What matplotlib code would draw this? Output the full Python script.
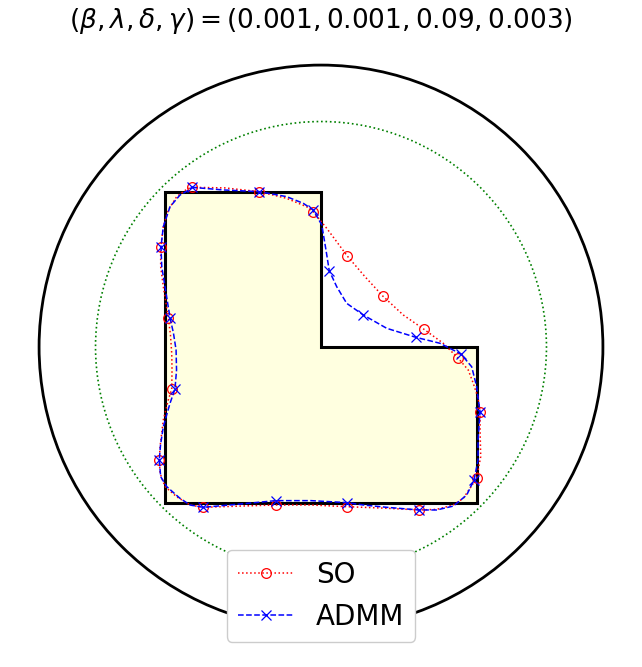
import numpy as np
import matplotlib
matplotlib.use("Agg")
import matplotlib.pyplot as plt

# L-shaped target domain (unit half-width)
shape_x = [-1, 1, 1, 0, 0, -1]
shape_y = [-1, -1, 0, 0, 1, 1]

# outer boundary circle and inner reference circle
outer_r = 1.813
inner_r = 1.45

# SO reconstructed boundary (clockwise from top-left)
so_x = [-0.832, -0.617, -0.397, -0.221, -0.092, -0.050, 0.037, 0.101, 0.169, 0.283,
        0.397, 0.529, 0.662, 0.786, 0.883, 0.947, 0.979, 1.010, 1.023, 1.023,
        1.027, 1.001, 0.915, 0.851, 0.744, 0.630, 0.423, 0.169, -0.064, -0.291,
        -0.521, -0.757, -0.842, -0.928, -1.003, -1.035, -1.040, -1.035, -1.014, -0.982,
        -0.960, -0.958, -0.960, -0.968, -0.982, -1.014, -1.031, -1.031, -1.014, -0.982,
        -0.928, -0.864, -0.832]
so_y = [1.027, 1.023, 0.999, 0.956, 0.902, 0.870, 0.763, 0.677, 0.585, 0.452,
        0.328, 0.206, 0.114, 0.024, -0.073, -0.148, -0.233, -0.328, -0.416, -0.534,
        -0.705, -0.844, -0.973, -1.016, -1.044, -1.048, -1.037, -1.027, -1.016, -1.016,
        -1.023, -1.031, -1.016, -0.963, -0.898, -0.812, -0.727, -0.641, -0.469, -0.341,
        -0.270, -0.148, -0.041, 0.077, 0.188, 0.388, 0.516, 0.641, 0.774, 0.881,
        0.967, 1.014, 1.027]
so_marks = [0, 2, 5, 8, 10, 12, 14, 18, 21, 25, 27, 29, 31, 36, 40, 44, 47]

# ADMM reconstructed boundary
admm_x = [-0.832, -0.628, -0.397, -0.221, -0.114, -0.050, 0.005, 0.032, 0.053, 0.101,
          0.165, 0.272, 0.423, 0.611, 0.765, 0.900, 0.969, 1.001, 1.012, 1.023,
          1.010, 1.010, 0.984, 0.937, 0.851, 0.744, 0.630, 0.423, 0.272, 0.169,
          -0.064, -0.291, -0.521, -0.757, -0.842, -0.907, -0.992, -1.031, -1.040, -1.032,
          -1.014, -0.971, -0.939, -0.929, -0.932, -0.949, -0.971, -1.003, -1.024, -1.029,
          -1.014, -0.971, -0.907, -0.842, -0.832]
admm_y = [1.027, 1.010, 0.999, 0.967, 0.924, 0.881, 0.785, 0.624, 0.491, 0.388,
          0.281, 0.206, 0.120, 0.062, 0.024, -0.045, -0.127, -0.255, -0.341, -0.416,
          -0.598, -0.727, -0.855, -0.952, -1.023, -1.048, -1.048, -1.031, -1.016, -1.001,
          -0.988, -0.988, -1.010, -1.031, -1.016, -0.973, -0.898, -0.834, -0.727, -0.630,
          -0.513, -0.362, -0.270, -0.148, -0.019, 0.090, 0.188, 0.388, 0.516, 0.643,
          0.774, 0.902, 0.977, 1.014, 1.027]
admm_marks = [0, 2, 5, 8, 11, 13, 15, 19, 22, 26, 29, 31, 33, 38, 42, 46, 49]

fig = plt.figure(figsize=(6.42, 6.67), dpi=100)
ax = fig.add_axes([0, 0, 1, 1])

ax.add_patch(plt.Circle((0, 0), outer_r, fill=False, color='k', lw=2))
ax.add_patch(plt.Circle((0, 0), inner_r, fill=False, color='g', ls=':', lw=1.2))

ax.fill(shape_x, shape_y, facecolor='lightyellow', edgecolor='k', lw=2.2)

ax.plot(so_x, so_y, 'r:', marker='o', mfc='none', ms=7, lw=1.1, mew=0.9,
        markevery=so_marks, label='SO')
ax.plot(admm_x, admm_y, 'b--', marker='x', ms=7, lw=1.1, mew=0.9,
        markevery=admm_marks, label='ADMM')

s = 155.5
ax.set_xlim(-321 / s, 321 / s)
ax.set_ylim((347 - 667) / s, 347 / s)
ax.axis('off')

fig.suptitle(r'$(\beta,\lambda,\delta,\gamma) = (0.001, 0.001, 0.09, 0.003)$',
             fontsize=19, y=0.968, va='center')
fig.legend(loc='lower center', bbox_to_anchor=(0.5, 0.038), borderaxespad=0,
           fontsize=20, framealpha=1)

fig.savefig('out.png', dpi=100)
